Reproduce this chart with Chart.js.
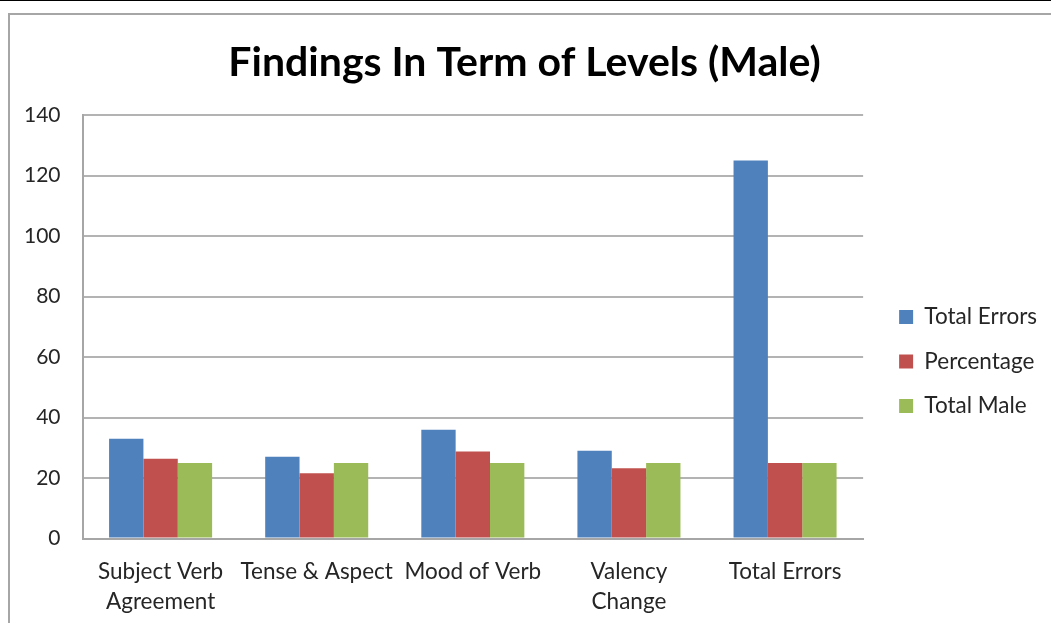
<!DOCTYPE html>
<html>
<head>
<meta charset="utf-8">
<script src="https://cdn.jsdelivr.net/npm/chart.js@4.4.0/dist/chart.umd.min.js"></script>
<style>
  body { margin: 0; background: #fff; overflow: hidden; }
  #wrap { position: relative; width: 1051px; height: 623px; }
  #topline { position: absolute; left: 0; top: 0; width: 1051px; height: 1px; background: #000; }
  #frame { position: absolute; left: 8px; top: 13px; width: 1100px; height: 700px;
           border-top: 2px solid #a6a6a6; border-left: 2px solid #a6a6a6; }
  canvas { position: absolute; left: 0; top: 0; }
</style>
</head>
<body>
<div id="wrap">
  <div id="topline"></div>
  <div id="frame"></div>
  <canvas id="levelsChart" width="1051" height="623"></canvas>
</div>
<script>
// categorias y series
const categorias = [['Subject Verb', 'Agreement'], 'Tense & Aspect', 'Mood of Verb', ['Valency', 'Change'], 'Total Errors'];
const totalErrors = [33, 27, 36, 29, 125];
const percentage = [26.4, 21.6, 28.8, 23.2, 25];
const totalMale = [25, 25, 25, 25, 25];
const yTicks = [0, 20, 40, 60, 80, 100, 120, 140];

const fuente = 'Lato, "Open Sans", sans-serif';

const renderLevels = () =>
{
    const data = {labels: categorias,
    datasets: [
        {label: 'Total Errors', data: totalErrors, backgroundColor: '#4f81bd'},
        {label: 'Percentage', data: percentage, backgroundColor: '#c0504d'},
        {label: 'Total Male', data: totalMale, backgroundColor: '#9bbb59'}
    ]};
    new Chart('levelsChart', {
        type: 'bar',
        data,
        options: {
            responsive: false,
            animation: false,
            datasets: {bar: {barPercentage: 1, categoryPercentage: 0.66}},
            layout: {padding: {top: 38, left: 2, right: 4, bottom: -4}},
            plugins: {
                title: {
                    display: true,
                    text: 'Findings In Term of Levels (Male)',
                    color: '#000',
                    font: {family: fuente, size: 41, weight: 'bold'},
                    padding: {top: 0, bottom: 28}
                },
                legend: {
                    position: 'right',
                    // titulo vacio solo para bajar los items
                    title: {display: true, text: ' ', font: {size: 20}, padding: {top: 17, bottom: 17}},
                    labels: {
                        boxWidth: 14, boxHeight: 14, padding: 22,
                        color: '#262626',
                        font: {family: fuente, size: 22.5}
                    }
                },
                tooltip: {enabled: false}
            },
            scales: {
                x: {
                    grid: {display: false},
                    border: {color: '#a6a6a6', width: 2},
                    ticks: {color: '#262626', font: {family: fuente, size: 22.5, lineHeight: 1.3}, padding: 11, maxRotation: 0, autoSkip: false}
                },
                y: {
                    min: 0, max: 140,
                    afterBuildTicks: axis => { axis.ticks = yTicks.map(v => ({value: v})); },
                    grid: {color: '#b3b3b3', lineWidth: 2, drawTicks: false},
                    border: {color: '#a6a6a6', width: 2},
                    ticks: {color: '#262626', font: {family: fuente, size: 21}, padding: 22}
                },
                // eje vacio para separar la leyenda del area
                gap: {
                    position: 'right', axis: 'y', min: 0, max: 140,
                    grid: {display: false}, border: {display: false},
                    ticks: {display: false},
                    afterFit: axis => { axis.width = 14; }
                }
            }
        }
    });
}

renderLevels();
</script>
</body>
</html>
